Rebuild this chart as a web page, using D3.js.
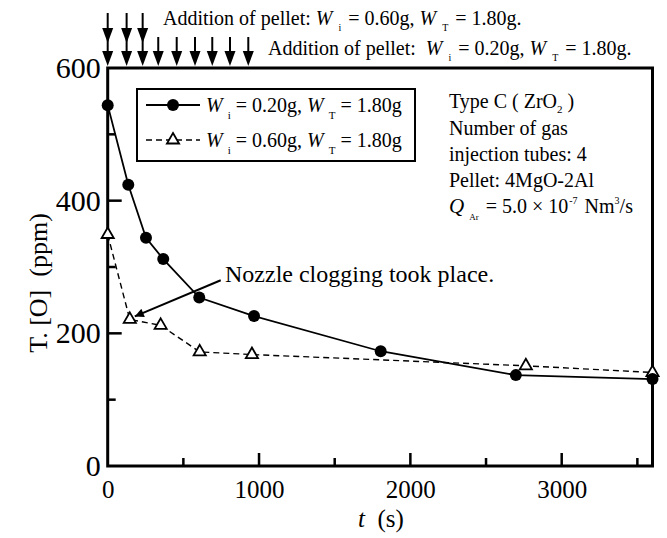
<!DOCTYPE html>
<html>
<head>
<meta charset="utf-8">
<script src="https://cdn.jsdelivr.net/npm/d3@7"></script>
<style>
  body { margin: 0; background: #fff; }
  svg { font-family: "Liberation Serif", "Times New Roman", serif; }
</style>
</head>
<body>
<div id="chart"></div>
<script>
// data
var tW020 = [0, 136, 253, 367, 605, 967, 1804, 2697, 3600];
var oW020 = [544, 424, 344, 312, 254, 226, 173, 137, 131];
var tW060 = [0, 146, 350, 608, 953, 2763, 3600];
var oW060 = [349, 221, 212, 172, 168, 151, 141];
var pelletTimes020 = [0, 125, 231, 334, 456, 577, 691, 808, 929];
var pelletTimes060 = [0, 125, 231];
var xTicks = [0, 1000, 2000, 3000];
var xMinor = [500, 1500, 2500, 3500];
var yTicks = [0, 200, 400, 600];
var yMinor = [100, 300, 500];

var width = 667, height = 538;
var pLeft = 107.7, pRight = 652.5, pTop = 68, pBottom = 466;

var svg = d3.select("#chart").append("svg")
    .attr("width", width)
    .attr("height", height);

var x = d3.scaleLinear().domain([0, 3600]).range([pLeft, pRight]);
var y = d3.scaleLinear().domain([0, 600]).range([pBottom, pTop]);

/* arrowheads */
var defs = svg.append("defs");
defs.append("marker")
    .attr("id", "tip")
    .attr("viewBox", "0 0 10 10")
    .attr("refX", 10).attr("refY", 5)
    .attr("markerWidth", 17).attr("markerHeight", 9)
    .attr("markerUnits", "userSpaceOnUse")
    .attr("orient", "auto")
    .append("path")
    .attr("d", "M0,0 L10,5 L0,10 Z")
    .attr("fill", "#000");

/* axes: ticks pointing inward */
var xAxis = d3.axisBottom(x).tickValues(xTicks).tickSize(0).tickPadding(14).tickFormat(d3.format("d"));
var gx = svg.append("g")
    .attr("transform", `translate(0, ${pBottom})`)
    .call(xAxis);
gx.select(".domain").remove();
gx.selectAll("text").attr("font-size", 25).attr("font-family", "Liberation Serif").attr("fill", "#000");

var yAxis = d3.axisLeft(y).tickValues(yTicks).tickSize(0).tickPadding(7);
var gy = svg.append("g")
    .attr("transform", `translate(${pLeft}, 0)`)
    .call(yAxis);
gy.select(".domain").remove();
gy.selectAll("text").attr("font-size", 30).attr("font-family", "Liberation Serif").attr("fill", "#000");

// tick marks
svg.append("g").selectAll("line")
    .data(xTicks.slice(1)).enter().append("line")
    .attr("x1", d => x(d)).attr("x2", d => x(d))
    .attr("y1", pBottom).attr("y2", pBottom - 13)
    .attr("stroke", "#000").attr("stroke-width", 2.5);
svg.append("g").selectAll("line")
    .data(xMinor).enter().append("line")
    .attr("x1", d => x(d)).attr("x2", d => x(d))
    .attr("y1", pBottom).attr("y2", pBottom - 8)
    .attr("stroke", "#000").attr("stroke-width", 2.5);
svg.append("g").selectAll("line")
    .data(yTicks.slice(1, 3)).enter().append("line")
    .attr("x1", pLeft).attr("x2", pLeft + 14)
    .attr("y1", d => y(d)).attr("y2", d => y(d))
    .attr("stroke", "#000").attr("stroke-width", 2.5);
svg.append("g").selectAll("line")
    .data(yMinor).enter().append("line")
    .attr("x1", pLeft).attr("x2", pLeft + 8)
    .attr("y1", d => y(d)).attr("y2", d => y(d))
    .attr("stroke", "#000").attr("stroke-width", 2.5);

// frame
svg.append("rect")
    .attr("x", pLeft).attr("y", pTop)
    .attr("width", pRight - pLeft).attr("height", pBottom - pTop)
    .attr("fill", "none").attr("stroke", "#000").attr("stroke-width", 3);

/* axis titles */
svg.append("text")
    .attr("x", 381).attr("y", 527)
    .attr("text-anchor", "middle")
    .attr("font-size", 25)
    .attr("xml:space", "preserve")
    .html('<tspan font-style="italic">t</tspan>  (s)');

svg.append("text")
    .attr("transform", "translate(47, 283) rotate(-90)")
    .attr("text-anchor", "middle")
    .attr("font-size", 26)
    .attr("xml:space", "preserve")
    .text("T. [O]  (ppm)");

/* pellet addition arrows on the top axis */
function downArrow(g, xp, y0, y1) {
    g.append("line")
        .attr("x1", xp).attr("x2", xp)
        .attr("y1", y0).attr("y2", y1 - 12)
        .attr("stroke", "#000").attr("stroke-width", 2);
    g.append("path")
        .attr("d", `M${xp - 5.5},${y1 - 15} L${xp + 5.5},${y1 - 15} L${xp},${y1} Z`)
        .attr("fill", "#000");
}
var arrows = svg.append("g");
pelletTimes020.forEach(function(t) { downArrow(arrows, x(t), 37, 66); });
pelletTimes060.forEach(function(t) { downArrow(arrows, x(t), 13, 43); });

function wPart(val, sz, sub) {
    return `<tspan font-style="italic">W</tspan><tspan font-size="${sub}" dx="6" dy="6">i</tspan><tspan dy="-6" dx="2"> = ${val}g, </tspan>` +
        `<tspan font-style="italic">W</tspan><tspan font-size="${sub}" dx="6" dy="6">T</tspan><tspan dy="-6" dx="2"> = 1.80g</tspan>`;
}

svg.append("text")
    .attr("x", 163).attr("y", 25)
    .attr("font-size", 20)
    .attr("xml:space", "preserve")
    .html('Addition of pellet: ' + wPart("0.60", 20, 10) + '.');
svg.append("text")
    .attr("x", 268).attr("y", 55)
    .attr("font-size", 20)
    .attr("xml:space", "preserve")
    .html('Addition of pellet:  ' + wPart("0.20", 20, 10) + '.');

/* series */
var s020 = tW020.map((t, i) => ({t: t, v: oW020[i]}));
var s060 = tW060.map((t, i) => ({t: t, v: oW060[i]}));

var line = d3.line().x(d => x(d.t)).y(d => y(d.v));

svg.append("path")
    .datum(s060)
    .attr("d", line)
    .attr("fill", "none")
    .attr("stroke", "#000")
    .attr("stroke-width", 1.4)
    .attr("stroke-dasharray", "6,4");

svg.append("path")
    .datum(s020)
    .attr("d", line)
    .attr("fill", "none")
    .attr("stroke", "#000")
    .attr("stroke-width", 1.8);

var tri = d3.symbol().type(d3.symbolTriangle).size(64);

svg.append("g").selectAll("path")
    .data(s060).enter().append("path")
    .attr("d", tri)
    .attr("transform", d => `translate(${x(d.t)}, ${y(d.v)})`)
    .attr("fill", "#fff")
    .attr("stroke", "#000")
    .attr("stroke-width", 1.8);

svg.append("g").selectAll("circle")
    .data(s020).enter().append("circle")
    .attr("cx", d => x(d.t))
    .attr("cy", d => y(d.v))
    .attr("r", 6)
    .attr("fill", "#000");

/* nozzle clogging annotation */
var noteFrom = {t: 747, v: 280};
svg.append("line")
    .attr("x1", x(noteFrom.t)).attr("y1", y(noteFrom.v))
    .attr("x2", x(tW060[1]) + 5).attr("y2", y(oW060[1]) - 3)
    .attr("stroke", "#000")
    .attr("stroke-width", 2)
    .attr("marker-end", "url(#tip)");
svg.append("text")
    .attr("x", 225).attr("y", 282)
    .attr("font-size", 24)
    .text("Nozzle clogging took place.");

/* legend */
var lg = svg.append("g");
lg.append("rect")
    .attr("x", 137).attr("y", 89)
    .attr("width", 278).attr("height", 72)
    .attr("fill", "#fff").attr("stroke", "#000").attr("stroke-width", 2);
lg.append("line")
    .attr("x1", 146).attr("x2", 200).attr("y1", 105).attr("y2", 105)
    .attr("stroke", "#000").attr("stroke-width", 1.8);
lg.append("circle").attr("cx", 173).attr("cy", 105).attr("r", 6).attr("fill", "#000");
lg.append("line")
    .attr("x1", 146).attr("x2", 200).attr("y1", 140).attr("y2", 140)
    .attr("stroke", "#000").attr("stroke-width", 1.4).attr("stroke-dasharray", "6,4");
lg.append("path").attr("d", tri)
    .attr("transform", "translate(173, 140)")
    .attr("fill", "#fff").attr("stroke", "#000").attr("stroke-width", 1.8);

lg.append("text")
    .attr("x", 206).attr("y", 112)
    .attr("font-size", 20)
    .html('<tspan font-style="italic">W</tspan><tspan font-size="11" dx="5" dy="7">i</tspan><tspan dy="-7"> = 0.20g, </tspan><tspan font-style="italic">W</tspan><tspan font-size="11" dx="5" dy="7">T</tspan><tspan dy="-7"> = 1.80g</tspan>');
lg.append("text")
    .attr("x", 206).attr("y", 147)
    .attr("font-size", 20)
    .html('<tspan font-style="italic">W</tspan><tspan font-size="11" dx="5" dy="7">i</tspan><tspan dy="-7"> = 0.60g, </tspan><tspan font-style="italic">W</tspan><tspan font-size="11" dx="5" dy="7">T</tspan><tspan dy="-7"> = 1.80g</tspan>');

/* condition notes */
var notes = svg.append("g").attr("font-size", 20);
notes.append("text").attr("x", 449).attr("y", 108)
    .html('Type C ( ZrO<tspan font-size="11" dy="5">2</tspan><tspan dy="-5"> )</tspan>');
notes.append("text").attr("x", 449).attr("y", 135).text("Number of gas");
notes.append("text").attr("x", 449).attr("y", 161).text("injection tubes: 4");
notes.append("text").attr("x", 449).attr("y", 187).text("Pellet: 4MgO-2Al");
notes.append("text").attr("x", 449).attr("y", 213)
    .html('<tspan font-style="italic" font-size="21">Q</tspan><tspan font-size="9" dx="5" dy="7">Ar</tspan><tspan dy="-7" dx="2"> = 5.0 × 10</tspan><tspan font-size="10" dy="-9" dx="1">-7</tspan><tspan dy="9" dx="2"> Nm</tspan><tspan font-size="10" dy="-9">3</tspan><tspan dy="9">/s</tspan>');
</script>
</body>
</html>
